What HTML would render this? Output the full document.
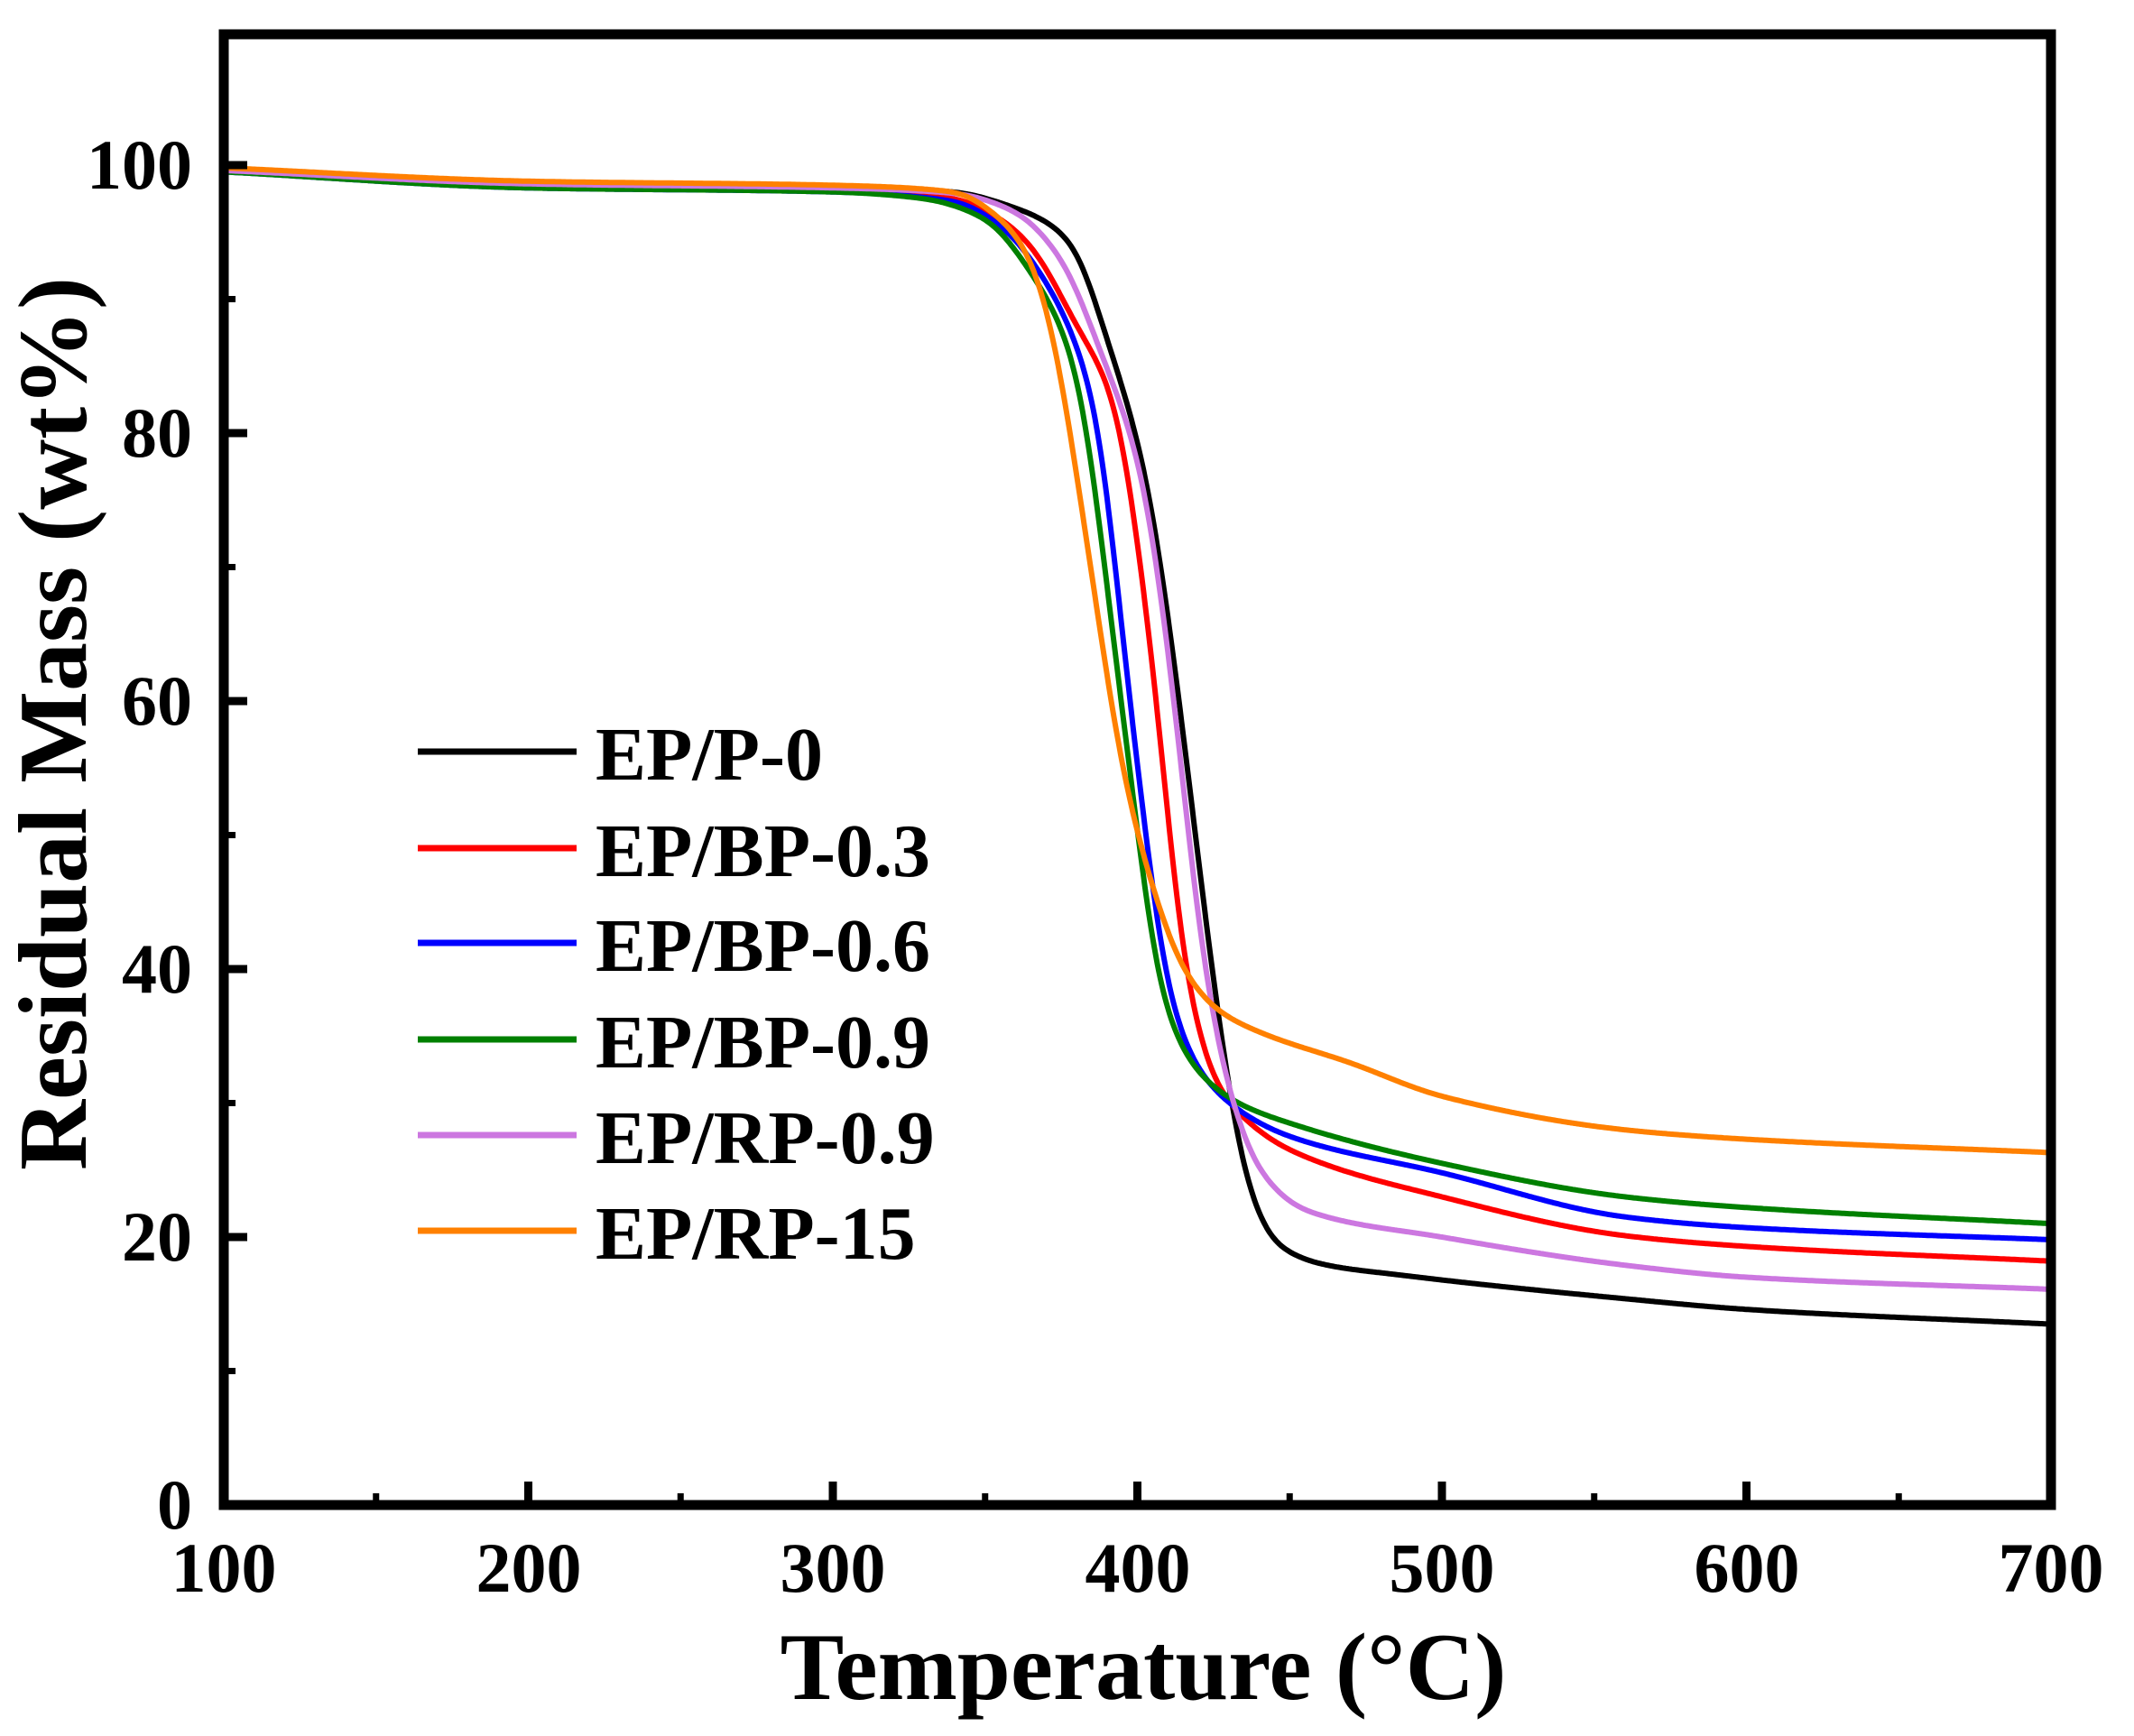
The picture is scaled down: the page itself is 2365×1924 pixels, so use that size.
<!DOCTYPE html>
<html><head><meta charset="utf-8"><style>
html,body{margin:0;padding:0;background:#fff;}
svg{display:block;}
text{font-family:"Liberation Serif",serif;font-weight:bold;fill:#000;}
</style></head><body>
<svg id="s" width="2365" height="1924" viewBox="0 0 2365 1924" xmlns="http://www.w3.org/2000/svg">
<rect width="2365" height="1924" fill="#fff"/>
<g id="curves" fill="none" stroke-width="6" stroke-linejoin="round"></g>
<g id="ticks" stroke="#000"></g>
<rect x="248" y="38" width="2025" height="1630" fill="none" stroke="#000" stroke-width="11"/>
<g font-size="78" text-anchor="end">
<text x="213" y="1694">0</text>
<text x="213" y="1397">20</text>
<text x="213" y="1100">40</text>
<text x="213" y="803">60</text>
<text x="213" y="506">80</text>
<text x="213" y="209">100</text>
</g>
<g font-size="78" text-anchor="middle">
<text x="248" y="1764">100</text>
<text x="586" y="1764">200</text>
<text x="923" y="1764">300</text>
<text x="1261" y="1764">400</text>
<text x="1598" y="1764">500</text>
<text x="1936" y="1764">600</text>
<text x="2273" y="1764">700</text>
</g>
<text x="1267" y="1883" font-size="106" text-anchor="middle">Temperature (°C)</text>
<text transform="translate(95,802) rotate(-90)" font-size="108" text-anchor="middle">Residual Mass (wt%)</text>
<g stroke-width="7">
<line x1="463" y1="833" x2="639" y2="833" stroke="#000"/>
<line x1="463" y1="940" x2="639" y2="940" stroke="#ff0000"/>
<line x1="463" y1="1045" x2="639" y2="1045" stroke="#0000ff"/>
<line x1="463" y1="1152" x2="639" y2="1152" stroke="#008000"/>
<line x1="463" y1="1258" x2="639" y2="1258" stroke="#cc77e0"/>
<line x1="463" y1="1364" x2="639" y2="1364" stroke="#ff8000"/>
</g>
<g font-size="84">
<text x="660" y="864">EP/P-0</text>
<text x="660" y="971">EP/BP-0.3</text>
<text x="660" y="1076">EP/BP-0.6</text>
<text x="660" y="1183">EP/BP-0.9</text>
<text x="660" y="1289">EP/RP-0.9</text>
<text x="660" y="1395">EP/RP-15</text>
</g>
</svg>
<script>
const X=t=>248+(t-100)*3.375, Y=w=>1668-w*14.85;
const ns="http://www.w3.org/2000/svg";
const tk=document.getElementById('ticks');
function ln(x1,y1,x2,y2,w){const l=document.createElementNS(ns,'line');l.setAttribute('x1',x1);l.setAttribute('y1',y1);l.setAttribute('x2',x2);l.setAttribute('y2',y2);l.setAttribute('stroke-width',w);tk.appendChild(l);}
for(let t=150;t<700;t+=50){const maj=(t%100==0);ln(X(t),1668,X(t),1668-(maj?26:13),maj?9:7);}
for(let w=10;w<=100;w+=10){const maj=(w%20==0);ln(248,Y(w),248+(maj?26:13),Y(w),maj?9:7);}
const D=[
["#000",[[100,99.6],[200,98.7],[300,98.4],[340,98],[360,96.8],[370,95.8],[379,94],[390,87],[402.7,77],[412,63.2],[418,52],[424,40.8],[430,31],[436,24],[445,19.6],[460,18],[485,17.2],[560,15.4],[600,14.6],[700,13.5]]],
["#ff0000",[[100,99.6],[200,98.5],[300,98.2],[340,97.5],[355,96],[365,94],[380,88],[392,82.7],[405,63],[415,40.8],[425,31.8],[433,29.3],[450,26.5],[500,23],[560,20.1],[600,19.3],[700,18.2]]],
["#0000ff",[[100,99.5],[200,98.3],[300,98],[340,97.3],[355,95.5],[368,92],[385.5,82.7],[398.7,57.6],[410.5,38],[420,32.5],[433,29.5],[450,27.5],[500,24.8],[560,21.5],[600,20.7],[700,19.8]]],
["#008000",[[100,99.5],[200,98.3],[300,98],[330,97.5],[350,96],[365,92],[379,85.5],[396,57.6],[408,38],[418.5,32.7],[433,30],[450,28.5],[500,25.5],[560,23],[600,22.2],[700,21]]],
["#cc77e0",[[100,99.6],[200,98.6],[300,98.3],[340,97.9],[360,96.5],[375,93],[388,86],[401.4,77],[410.5,63.2],[421.5,40.8],[430,31],[440,25],[455,22],[500,20],[560,17.9],[600,17],[700,16.1]]],
["#ff8000",[[100,99.8],[200,98.8],[300,98.5],[340,98],[355,96],[365,93],[372,87.7],[384,71],[395,55],[405.4,45.8],[415,40],[426.5,36.9],[440,35.3],[470,33],[500,30.5],[560,28],[600,27.3],[700,26.3]]]
];
function mono(p){const n=p.length,x=p.map(a=>a[0]),y=p.map(a=>a[1]),d=[],m=[];
for(let i=0;i<n-1;i++)d.push((y[i+1]-y[i])/(x[i+1]-x[i]));
m[0]=d[0];m[n-1]=d[n-2];
for(let i=1;i<n-1;i++){if(d[i-1]*d[i]<=0)m[i]=0;else{const w1=2*(x[i+1]-x[i])+(x[i]-x[i-1]),w2=(x[i+1]-x[i])+2*(x[i]-x[i-1]);m[i]=(w1+w2)/(w1/d[i-1]+w2/d[i]);}}
return function(t){let i=0;while(i<n-2&&t>x[i+1])i++;const h=x[i+1]-x[i],u=(t-x[i])/h,u2=u*u,u3=u2*u;
return (2*u3-3*u2+1)*y[i]+(u3-2*u2+u)*h*m[i]+(-2*u3+3*u2)*y[i+1]+(u3-u2)*h*m[i+1];};}
const g=document.getElementById('curves');
const step=0.5,sig=3.5;
for(const [c,p] of D){const f=mono(p);const T=[],V=[];
for(let t=100;t<=700.001;t+=step){T.push(t);V.push(f(t));}
const K=[];const r=Math.ceil(3*sig/step);let ks=0;for(let k=-r;k<=r;k++){const w=Math.exp(-0.5*(k*step/sig)**2);K.push(w);ks+=w;}
const S=V.map((_,i)=>{let s=0;for(let k=-r;k<=r;k++){let j=Math.min(V.length-1,Math.max(0,i+k));let v=V[j];
if(i+k<0)v=2*V[0]-V[Math.min(V.length-1,-(i+k))];if(i+k>V.length-1)v=2*V[V.length-1]-V[Math.max(0,2*(V.length-1)-(i+k))];
s+=K[k+r]*v;}return s/ks;});
const pa=document.createElementNS(ns,'path');
pa.setAttribute('d','M'+T.map((t,i)=>X(t).toFixed(1)+','+Y(S[i]).toFixed(1)).join('L'));
pa.setAttribute('stroke',c);g.appendChild(pa);}
</script>
</body></html>
